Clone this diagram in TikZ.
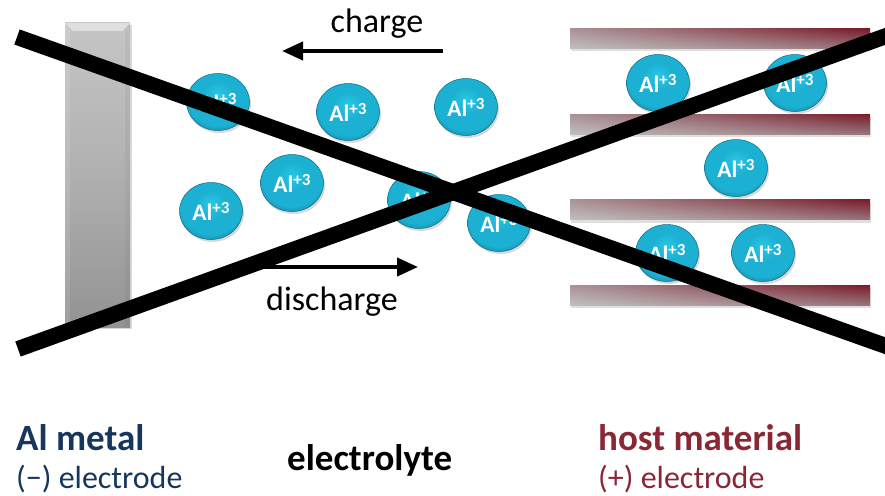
\documentclass[tikz,border=0pt]{standalone}
\usepackage{fontspec}
\setmainfont{Carlito}
\usetikzlibrary{arrows.meta,shapes.geometric,shadows,shadings}
\definecolor{ionA}{HTML}{2AC6E4}
\definecolor{ionB}{HTML}{1CB1D3}
\definecolor{ionC}{HTML}{148FAE}
\definecolor{ionD}{HTML}{117E9B}
\definecolor{navy}{HTML}{17365D}
\definecolor{wine}{HTML}{8A2735}
\definecolor{plred}{HTML}{7A1A2A}
\pgfdeclareradialshading{ionshade}{\pgfpoint{0bp}{7bp}}{color(0bp)=(ionA); color(12bp)=(ionB); color(24bp)=(ionB); color(30bp)=(ionC); color(34bp)=(ionD); color(50bp)=(ionD)}
\tikzset{
  ion/.style={ellipse, minimum width=63pt, minimum height=57pt, inner sep=0pt,
    shade, shading=ionshade, draw=ionC!75!black, line width=0.5pt, text=white,
    font=\fontsize{23.5}{23.5}\selectfont\bfseries,
    drop shadow={shadow xshift=1.5pt, shadow yshift=-2.5pt, opacity=0.3}},
  plate/.style={rectangle, minimum width=300pt, minimum height=20pt, inner sep=0pt,
    upper left=plred!40!gray!65, upper right=plred, lower left=gray!50, lower right=gray!55!plred!80,
    drop shadow={shadow xshift=1pt, shadow yshift=-3pt, opacity=0.25}},
  xline/.style={line width=16pt, black},
  flow/.style={line width=4pt, -{Triangle[length=21pt,width=18pt]}},
  lbl/.style={anchor=base west, inner sep=0pt},
}
\newcommand{\ionlbl}{Al\raisebox{7pt}{\fontsize{17}{17}\selectfont +3}}
\begin{document}
\begin{tikzpicture}[x=1pt, y=-1pt]
\useasboundingbox (0,0) rectangle (885,495);
\clip (0,0) rectangle (885,495);
% Al electrode
\node[rectangle, minimum width=65pt, minimum height=304pt, inner sep=0pt,
  top color=gray!45, bottom color=gray!85, middle color=gray!62,
  drop shadow={shadow xshift=2pt, shadow yshift=-2pt, opacity=0.3}] (alel) at (97.5,175) {};
\fill[white, opacity=0.45] (alel.north west) -- (alel.north east) -- ([xshift=-8pt,yshift=-8pt]alel.north east) -- ([xshift=8pt,yshift=-8pt]alel.north west) -- cycle;
\fill[black, opacity=0.04] (alel.north east) -- ([xshift=-5pt,yshift=-8pt]alel.north east) -- ([xshift=-5pt]alel.south east) -- (alel.south east) -- cycle;
\fill[white, opacity=0.12] (alel.north west) -- ([xshift=5pt,yshift=-8pt]alel.north west) -- ([xshift=5pt]alel.south west) -- (alel.south west) -- cycle;
% host plates
\node[plate] (p1) at (720,38.5) {};
\node[plate] (p2) at (720,124) {};
\node[plate] (p3) at (720,209.5) {};
\node[plate] (p4) at (720,295) {};
% ions
\node[ion] (i1) at (218,102) {\ionlbl};
\node[ion] (i2) at (348,112) {\ionlbl};
\node[ion] (i3) at (466,107) {\ionlbl};
\node[ion] (i4) at (292,183) {\ionlbl};
\node[ion] (i5) at (211,211) {\ionlbl};
\node[ion] (i6) at (419,200) {\ionlbl};
\node[ion] (i7) at (499,223) {\ionlbl};
\node[ion] (i8) at (658,83) {\ionlbl};
\node[ion] (i9) at (795,83) {\ionlbl};
\node[ion] (i10) at (736,168) {\ionlbl};
\node[ion] (i11) at (667,253) {\ionlbl};
\node[ion] (i12) at (763,253) {\ionlbl};
% arrows
\coordinate (cs) at (443,51);
\coordinate (ce) at (282,51);
\coordinate (ds) at (258,267);
\coordinate (de) at (418,267);
\draw[flow] (cs) -- (ce);
\draw[flow] (ds) -- (de);
\node[anchor=base, inner sep=0pt, font=\fontsize{34}{34}\selectfont] (tch) at (377,33) {charge};
\node[anchor=base, inner sep=0pt, font=\fontsize{34}{34}\selectfont] (tdis) at (332,310) {discharge};
% the cross
\coordinate (xa1) at (17,37);
\coordinate (xa2) at (900,351);
\coordinate (xb1) at (18,349);
\coordinate (xb2) at (900,31);
\draw[xline] (xa1) -- (xa2);
\draw[xline] (xb1) -- (xb2);
% labels
\node[lbl, text=navy, font=\fontsize{37}{37}\selectfont\bfseries] (alm) at (16,450) {Al metal};
\node[lbl, text=navy, font=\fontsize{32}{32}\selectfont] (neg) at (16,488) {(−) electrode};
\node[lbl, font=\fontsize{37}{37}\selectfont\bfseries] (ely) at (287,470) {electrolyte};
\node[lbl, text=wine, font=\fontsize{37}{37}\selectfont\bfseries] (hm) at (598,450) {host material};
\node[lbl, text=wine, font=\fontsize{32}{32}\selectfont] (pos) at (598,488) {(+) electrode};
\end{tikzpicture}
\end{document}
